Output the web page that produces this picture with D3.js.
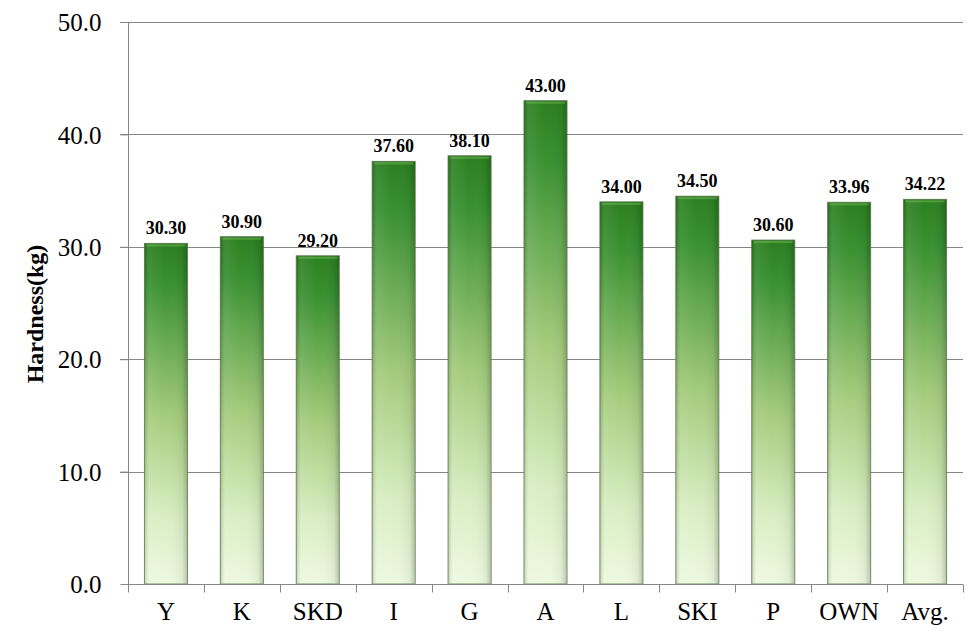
<!DOCTYPE html>
<html><head><meta charset="utf-8">
<script src="https://cdn.jsdelivr.net/npm/d3@7/dist/d3.min.js"></script>
<style>body{margin:0;background:#fff}svg{display:block}</style>
</head><body>
<svg id="c" width="979" height="641"></svg>
<script>
const categories = ["Y","K","SKD","I","G","A","L","SKI","P","OWN","Avg."];
const values = [30.30,30.90,29.20,37.60,38.10,43.00,34.00,34.50,30.60,33.96,34.22];
const yTicks = [0,10,20,30,40,50];
const yLabel = "Hardness(kg)";

const svg = d3.select("#c");
const m = {l:128, r:16, t:22, b:57};
const W = 979, H = 641;
const x = d3.scaleBand().domain(categories).range([m.l, W - m.r]).paddingInner(0.433).paddingOuter(0.2165);
const y = d3.scaleLinear().domain([0,50]).range([H - m.b, m.t]);
const font = "'Liberation Serif','Times New Roman',serif";

const defs = svg.append("defs");
const g1 = defs.append("linearGradient").attr("id","vg").attr("x1",0).attr("y1",0).attr("x2",0).attr("y2",1);
[[0,"#2b7f1f"],[0.12,"#389030"],[0.5,"#a3cb7b"],[0.8,"#d8eec2"],[1,"#eef9e0"]].forEach(s=>g1.append("stop").attr("offset",s[0]).attr("stop-color",s[1]));
const g2 = defs.append("linearGradient").attr("id","hg").attr("x1",0).attr("y1",0).attr("x2",1).attr("y2",0);
[[0,"#000",0.15],[0.1,"#fff",0.08],[0.5,"#fff",0],[0.88,"#000",0.05],[1,"#000",0.2]].forEach(s=>g2.append("stop").attr("offset",s[0]).attr("stop-color",s[1]).attr("stop-opacity",s[2]));

// gridlines
svg.append("g").selectAll("line").data(yTicks.filter(d=>d>0)).join("line")
  .attr("x1", m.l - 8).attr("x2", W - m.r)
  .attr("y1", d=>Math.round(y(d))+0.5).attr("y2", d=>Math.round(y(d))+0.5)
  .attr("stroke","#868686").attr("stroke-width",1);

// bars
const bars = svg.append("g");
bars.selectAll("rect.b").data(values).join("rect").attr("class","b")
  .attr("x",(d,i)=>x(categories[i])).attr("width",x.bandwidth())
  .attr("y",d=>y(d)).attr("height",d=>y(0)-y(d))
  .attr("fill","url(#vg)").attr("stroke","#4f7040").attr("stroke-opacity",0.8).attr("stroke-width",1);
bars.selectAll("rect.h").data(values).join("rect").attr("class","h")
  .attr("x",(d,i)=>x(categories[i])+0.5).attr("width",x.bandwidth()-1)
  .attr("y",d=>y(d)+0.5).attr("height",d=>y(0)-y(d)-1)
  .attr("fill","url(#hg)");
bars.selectAll("rect.t").data(values).join("rect").attr("class","t")
  .attr("x",(d,i)=>x(categories[i])+2).attr("width",x.bandwidth()-4)
  .attr("y",d=>y(d)+1).attr("height",2)
  .attr("fill","#7cc060").attr("opacity",0.45);

// value labels
svg.append("g").selectAll("text").data(values).join("text")
  .attr("x",(d,i)=>x(categories[i])+x.bandwidth()/2).attr("y",d=>y(d)-9)
  .attr("text-anchor","middle").attr("font-family",font).attr("font-weight","bold").attr("font-size",18)
  .text(d=>d.toFixed(2));

// y axis
const ya = svg.append("g").attr("transform",`translate(${m.l+0.5},0)`)
  .call(d3.axisLeft(y).tickValues(yTicks).tickFormat(d=>d.toFixed(1)).tickSize(8).tickPadding(19));
ya.selectAll("path,line").attr("stroke","#868686");
ya.select(".domain").attr("d",`M0,${y(50)}V${y(0)}`);
ya.selectAll("text").attr("font-family",font).attr("font-size",25).attr("fill","#000").attr("dy","0.35em");

// x axis
const xa = svg.append("g").attr("transform",`translate(0,${Math.round(y(0))+0.5})`)
  .call(d3.axisBottom(x).tickSize(0).tickPadding(35));
xa.select(".domain").attr("stroke","#868686").attr("d",`M${m.l},0H${W-m.r}`);
xa.selectAll("text").attr("font-family",font).attr("font-size",25).attr("fill","#000").attr("dy","0");
const bounds = categories.map(c=>x(c)-x.step()*x.paddingInner()/2).concat([W-m.r]);
xa.append("g").selectAll("line").data(bounds).join("line")
  .attr("x1",d=>Math.round(d)+0.5).attr("x2",d=>Math.round(d)+0.5).attr("y1",0).attr("y2",8).attr("stroke","#868686");

// y label
svg.append("text").attr("transform","translate(43,314) rotate(-90)")
  .attr("text-anchor","middle").attr("font-family",font).attr("font-weight","bold").attr("font-size",24)
  .text(yLabel);
</script>
</body></html>
